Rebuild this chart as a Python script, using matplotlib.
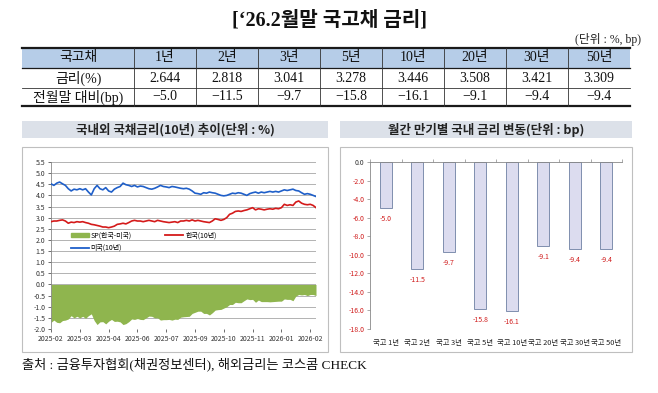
import numpy as np
import matplotlib.pyplot as plt
from matplotlib.patches import Rectangle, Patch
from matplotlib.lines import Line2D

plt.rcParams['font.family'] = ['Noto Sans CJK KR', 'DejaVu Sans']
SERIF = ['Liberation Serif', 'Noto Sans CJK KR']

# ---- data ----
maturities = ['1년', '2년', '3년', '5년', '10년', '20년', '30년', '50년']
rates = [2.644, 2.818, 3.041, 3.278, 3.446, 3.508, 3.421, 3.309]
changes = [-5.0, -11.5, -9.7, -15.8, -16.1, -9.1, -9.4, -9.4]
bar_labels = ['국고 1년', '국고 2년', '국고 3년', '국고 5년', '국고 10년',
              '국고 20년', '국고 30년', '국고 50년']
date_labels = ['2025-02', '2025-03', '2025-04', '2025-06', '2025-07',
               '2025-09', '2025-10', '2025-11', '2026-01', '2026-02']

us_10y = [4.52, 4.45, 4.55, 4.60, 4.52, 4.45, 4.30, 4.20, 4.28, 4.25,
          4.30, 4.25, 4.30, 4.15, 4.02, 4.30, 4.45, 4.30, 4.25, 4.35,
          4.20, 4.15, 4.28, 4.35, 4.40, 4.55, 4.48, 4.45, 4.40, 4.45,
          4.38, 4.42, 4.40, 4.35, 4.30, 4.28, 4.32, 4.38, 4.45, 4.40,
          4.38, 4.35, 4.40, 4.38, 4.35, 4.32, 4.30, 4.32, 4.28, 4.20,
          4.10, 4.08, 4.05, 4.12, 4.10, 4.15, 4.12, 4.10, 4.05, 4.00,
          3.98, 4.00, 4.05, 4.10, 4.08, 4.12, 4.10, 4.05, 4.00, 4.08,
          4.12, 4.15, 4.10, 4.15, 4.12, 4.15, 4.18, 4.15, 4.18, 4.15,
          4.20, 4.25, 4.22, 4.25, 4.28, 4.22, 4.20, 4.12, 4.05, 4.08,
          4.05, 4.00, 3.95]
kr_10y = [2.82, 2.85, 2.85, 2.88, 2.90, 2.85, 2.75, 2.80, 2.78, 2.82,
          2.80, 2.82, 2.78, 2.75, 2.70, 2.68, 2.65, 2.62, 2.58, 2.58,
          2.55, 2.58, 2.62, 2.70, 2.72, 2.75, 2.72, 2.78, 2.85, 2.88,
          2.85, 2.85, 2.82, 2.85, 2.88, 2.85, 2.82, 2.88, 2.85, 2.82,
          2.80, 2.78, 2.80, 2.82, 2.78, 2.85, 2.85, 2.88, 2.85, 2.90,
          2.85, 2.88, 2.85, 2.82, 2.80, 2.78, 2.85, 2.95, 2.92, 2.88,
          2.92, 3.00, 3.15, 3.20, 3.28, 3.30, 3.28, 3.32, 3.35, 3.40,
          3.45, 3.35, 3.40, 3.38, 3.35, 3.38, 3.40, 3.38, 3.42, 3.40,
          3.45, 3.60, 3.55, 3.58, 3.55, 3.70, 3.75, 3.65, 3.60, 3.58,
          3.60, 3.55, 3.45]

W, H = 658, 393
fig = plt.figure(figsize=(W / 100, H / 100), dpi=100)

# full-figure pixel canvas for title, table and frames
cv = fig.add_axes([0, 0, 1, 1])
cv.set_xlim(0, W)
cv.set_ylim(H, 0)
cv.axis('off')


def px_axes(x0, y0, x1, y1):
    return fig.add_axes([x0 / W, 1 - y1 / H, (x1 - x0) / W, (y1 - y0) / H])


cv.text(330, 20, '[‘26.2월말 국고채 금리]', family=SERIF, fontsize=14.5,
        fontweight='bold', ha='center', va='center', color='#111')
cv.text(641, 40, '(단위 : %, bp)', family=SERIF, fontsize=8.5,
        ha='right', va='center', color='#222')

# ---- table ----
tl, tr = 22, 630
cx = [tl, 134] + [134 + 62 * (k + 1) for k in range(8)]
cx[-1] = tr
cv.add_patch(Rectangle((tl, 48), tr - tl, 20, fc='#b6cde8', ec='none'))
cv.plot([tl, tr], [48, 48], color='#1a1a1a', lw=1.6)
cv.plot([tl, tr], [68, 68], color='#1a1a1a', lw=0.9)
cv.plot([tl, tr], [88, 88], color='#333', lw=0.6)
cv.plot([tl, tr], [106, 106], color='#1a1a1a', lw=1.6)
for xv in cx[1:-1]:
    cv.plot([xv, xv], [48, 106], color='#333', lw=0.6)

rows = [('국고채', maturities, 58),
        ('금리(%)', [f'{r:.3f}' for r in rates], 78),
        ('전월말 대비(bp)', [f'{c:.1f}'.replace('-', '−') for c in changes], 97)]
for head, vals, yy in rows:
    cv.text((cx[0] + cx[1]) / 2, yy, head, family=SERIF, fontsize=10,
            ha='center', va='center', color='#111')
    for k, v in enumerate(vals):
        cv.text((cx[k + 1] + cx[k + 2]) / 2, yy, v, family=SERIF, fontsize=10,
                ha='center', va='center', color='#111')

# ---- panel frames and title bars ----
for x0, x1, title in [(22, 328, '국내외 국채금리(10년) 추이(단위 : %)'),
                      (340, 632, '월간 만기별 국내 금리 변동(단위 : bp)')]:
    cv.add_patch(Rectangle((x0, 121), x1 - x0, 17, fc='#dce1e9', ec='none'))
    cv.add_patch(Rectangle((x0, 147), x1 - x0, 205, fill=False,
                           ec='#bfbfbf', lw=0.8))
    cv.text((x0 + x1) / 2, 130, title, fontsize=9, fontweight='bold',
            ha='center', va='center', color='#222')

cv.text(22, 364, '출처 : 금융투자협회(채권정보센터), 해외금리는 코스콤 CHECK',
        family=SERIF, fontsize=9.5, ha='left', va='center', color='#111')

# ---- left chart: 10y yields ----
ax1 = px_axes(51, 162, 316, 329)
xs = np.arange(len(us_10y))
spread = np.array(kr_10y) - np.array(us_10y)
ax1.fill_between(xs, 0, spread, color='#8fb54e', lw=0, zorder=2)
ax1.plot(xs, kr_10y, color='#d41a1a', lw=1.2, zorder=3)
ax1.plot(xs, us_10y, color='#1f5fc9', lw=1.2, zorder=3)
ax1.set_xlim(0, len(us_10y) - 1)
ax1.set_ylim(-2, 5.5)
ax1.set_yticks(np.arange(-2, 5.51, 0.5))
ax1.set_yticklabels([f'{v:.1f}' for v in np.arange(-2, 5.51, 0.5)])
ax1.set_xticks(np.arange(0, len(date_labels) * 10, 10))
ax1.set_xticklabels(date_labels)
ax1.grid(axis='y', color='#a6a6a6', lw=0.6, zorder=0)
ax1.tick_params(labelsize=5, colors='#333', length=2, width=0.5, pad=2)
for s in ['top', 'right', 'bottom']:
    ax1.spines[s].set_visible(False)
ax1.spines['left'].set_color('#888')
ax1.spines['left'].set_linewidth(0.6)
handles = [Patch(color='#8fb54e', label='SP(한국-미국)'),
           Line2D([], [], color='#1f5fc9', lw=1.3, label='미국(10년)'),
           Line2D([], [], color='#d41a1a', lw=1.3, label='한국(10년)')]
ax1.legend(handles=handles, ncol=2, loc='upper left',
           bbox_to_anchor=(0.05, 0.62), frameon=False, fontsize=5,
           handlelength=2.6, handleheight=0.6, columnspacing=4.8,
           labelspacing=0.6, handletextpad=0.3)

# ---- right chart: monthly change ----
ax2 = px_axes(370, 162, 622, 329)
xb = np.arange(len(changes))
ax2.bar(xb, changes, width=0.38, color='#dcdcef', edgecolor='#7f8fae', lw=0.7)
ax2.set_xlim(-0.5, len(changes) - 0.5)
ax2.set_ylim(-18, 0)
yt = np.arange(-18, 0.1, 2)
ax2.set_yticks(yt)
ax2.set_yticklabels([f'{v:.1f}' for v in yt])
for lab, v in zip(ax2.get_yticklabels(), yt):
    lab.set_color('#333' if v == 0 else '#d01c1c')
ax2.set_xticks(xb)
ax2.set_xticklabels(bar_labels)
ax2.set_xticks(np.arange(-0.5, len(changes), 1), minor=True)
ax2.tick_params(axis='x', which='major', length=0, labelsize=5.3,
                colors='#222', pad=7)
ax2.tick_params(axis='x', which='minor', bottom=False, top=True, length=2,
                width=0.5, color='#888')
ax2.tick_params(axis='y', labelsize=5, length=2, width=0.5, color='#888',
                pad=2)
for s in ['right', 'bottom']:
    ax2.spines[s].set_visible(False)
for s in ['left', 'top']:
    ax2.spines[s].set_color('#888')
    ax2.spines[s].set_linewidth(0.6)
for i, v in enumerate(changes):
    ax2.annotate(f'{v:.1f}', (i, v), xytext=(0, -5), textcoords='offset points',
                 ha='center', va='top', fontsize=5, color='#d01c1c')

fig.savefig('out.png', dpi=100)
